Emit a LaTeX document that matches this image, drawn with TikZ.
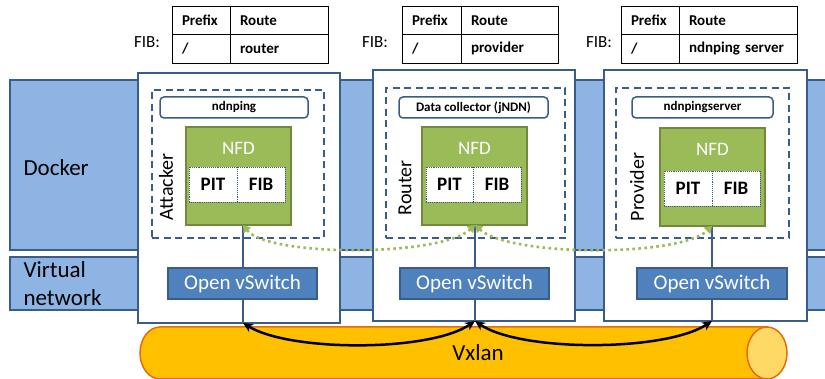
\documentclass[tikz,border=0pt]{standalone}
\usepackage{fontspec}
\setmainfont{Carlito}
\usetikzlibrary{arrows.meta}
\definecolor{bandfill}{RGB}{142,180,227}
\definecolor{dblue}{RGB}{56,93,138}
\definecolor{swfill}{RGB}{79,129,189}
\definecolor{nfdfill}{RGB}{155,187,89}
\definecolor{nfdline}{RGB}{113,137,63}
\definecolor{cylfill}{RGB}{255,192,0}
\definecolor{cylline}{RGB}{228,108,10}
\definecolor{capfill}{RGB}{255,217,102}
\newcommand{\fs}[1]{\fontsize{#1}{#1}\selectfont}
\begin{document}
\begin{tikzpicture}[x=1pt,y=-1pt,
  box/.style={inner sep=0pt, outer sep=0pt, anchor=north west},
  band/.style={box, draw=dblue, fill=bandfill, line width=1.2pt},
  cont/.style={box, draw=dblue, fill=white, line width=1.5pt},
  dbox/.style={box, draw=dblue, line width=1.5pt, dash pattern=on 7pt off 4.5pt},
  app/.style={box, draw=dblue, fill=white, line width=1.5pt, rounded corners=4pt, font=\bfseries\fs{13}},
  nfd/.style={box, draw=nfdline, fill=nfdfill, line width=1.5pt},
  nfdlbl/.style={text=white, font=\fs{19}},
  cell/.style={box, draw=dblue, fill=white, densely dotted, line width=0.9pt, minimum height=35pt, font=\bfseries\fs{19}},
  sw/.style={box, draw=dblue, fill=swfill, line width=1.5pt, text=white, font=\fs{21}},
  tcell/.style={box, draw=black, line width=0.8pt, minimum height=28.5pt, inner xsep=10pt, align=left, font=\bfseries\fs{15}},
  fiblbl/.style={font=\fs{17}},
  role/.style={rotate=90, font=\fs{20}},
  vline/.style={draw=dblue, line width=1.8pt},
  link/.style={draw=black, line width=2.5pt, {Stealth[length=10pt,width=9pt]}-{Stealth[length=10pt,width=9pt]}},
  glink/.style={draw=nfdfill, line width=2.6pt, dash pattern=on 2.6pt off 3.4pt, {Triangle[length=7pt,width=9pt]}-{Triangle[length=7pt,width=9pt]}}
]
\useasboundingbox (0,0) rectangle (825,379);
\clip (0,0) rectangle (825,379);

% bands
\node[band, minimum width=830pt, minimum height=170pt] (docker) at (10,80) {};
\node[band, minimum width=830pt, minimum height=53pt] (vnet) at (10,257) {};
\node[anchor=west, font=\fs{23}] (dockerlbl) at (20,168) {Docker};
\node[anchor=west, align=left, font=\fontsize{23}{28}\selectfont] (vnetlbl) at (20,284) {Virtual\\network};

% cylinder
\draw[cylline, fill=cylfill, line width=1.5pt] (767,327) -- (160,327)
  arc[start angle=90, end angle=270, x radius=20pt, y radius=26pt] -- (767,379) -- cycle;
\draw[cylline, fill=capfill, line width=1.5pt] (767,353) ellipse [x radius=20pt, y radius=26pt];
\node[font=\fs{23}] (vxlan) at (478,353) {Vxlan};

% containers
\node[cont, minimum width=202pt, minimum height=250pt] (c1) at (138,73) {};
\node[cont, minimum width=202pt, minimum height=251pt] (c2) at (373,70) {};
\node[cont, minimum width=203pt, minimum height=251pt] (c3) at (604,70) {};

% dashed boxes
\node[dbox, minimum width=172pt, minimum height=148pt] (d1) at (152,90) {};
\node[dbox, minimum width=179pt, minimum height=150pt] (d2) at (386,88) {};
\node[dbox, minimum width=173pt, minimum height=150pt] (d3) at (616,88) {};

% apps
\node[app, minimum width=148pt, minimum height=21pt] (a1) at (160,97) {ndnping};
\node[app, minimum width=149pt, minimum height=21pt] (a2) at (399,97) {Data collector (jNDN)};
\node[app, minimum width=141pt, minimum height=21pt] (a3) at (632,97) {ndnpingserver};

% role labels
\node[role] (r1) at (166,187) {Attacker};
\node[role] (r2) at (405,188) {Router};
\node[role] (r3) at (637,187) {Provider};

% coordinates for links
\coordinate (t1) at (243,225);
\coordinate (t2) at (475,225);
\coordinate (t3) at (712,226);
\coordinate (b1) at (243,323);
\coordinate (b2) at (475,321);
\coordinate (b3) at (712,321);

% vertical lines
\draw[vline] (t1) -- (b1);
\draw[vline] (t2) -- (b2);
\draw[vline] (t3) -- (b3);

% NFD
\node[nfd, minimum width=105pt, minimum height=98pt] (n1) at (186,127) {};
\node[nfd, minimum width=105pt, minimum height=98pt] (n2) at (422,127) {};
\node[nfd, minimum width=105pt, minimum height=98pt] (n3) at (660,128) {};
\node[nfdlbl] (nl1) at (238.5,148) {NFD};
\node[nfdlbl] (nl2) at (474.5,148) {NFD};
\node[nfdlbl] (nl3) at (712.5,149) {NFD};

\node[cell, minimum width=48pt] (p1) at (189,167) {PIT};
\node[cell, minimum width=48pt] (f1) at (237,167) {FIB};
\node[cell, minimum width=47pt] (p2) at (426,167) {PIT};
\node[cell, minimum width=48pt] (f2) at (473,167) {FIB};
\node[cell, minimum width=48pt] (p3) at (664,171) {PIT};
\node[cell, minimum width=48pt] (f3) at (712,171) {FIB};

% vSwitch
\node[sw, minimum width=149pt, minimum height=31pt] (s1) at (168,268) {Open vSwitch};
\node[sw, minimum width=149pt, minimum height=31pt] (s2) at (400,268) {Open vSwitch};
\node[sw, minimum width=150pt, minimum height=31pt] (s3) at (637,268) {Open vSwitch};

% FIB tables
\node[fiblbl] (fl1) at (147,42) {FIB:};
\node[tcell, text width=38pt] (h11) at (172,6) {Prefix};
\node[tcell, text width=78pt] (h12) at (230,6) {Route};
\node[tcell, text width=38pt] (v11) at (172,34.5) {/};
\node[tcell, text width=78pt] (v12) at (230,34.5) {router};

\node[fiblbl] (fl2) at (375,42) {FIB:};
\node[tcell, text width=39pt] (h21) at (402,6) {Prefix};
\node[tcell, text width=77pt] (h22) at (461,6) {Route};
\node[tcell, text width=39pt] (v21) at (402,34.5) {/};
\node[tcell, text width=77pt] (v22) at (461,34.5) {provider};

\node[fiblbl] (fl3) at (599,42) {FIB:};
\node[tcell, text width=38pt] (h31) at (621,6) {Prefix};
\node[tcell, text width=98pt] (h32) at (679,6) {Route};
\node[tcell, text width=38pt] (v31) at (621,34.5) {/};
\node[tcell, text width=98pt] (v32) at (679,34.5) {ndnping server};

% green dotted links
\draw[glink] (t1) .. controls (268,257) and (440,257) .. (t2);
\draw[glink] (t2) .. controls (510,257) and (680,257) .. (t3);

% black links
\draw[link] (b1) .. controls (290,352) and (430,352) .. (b2);
\draw[link] (b2) .. controls (520,352) and (665,352) .. (b3);
\end{tikzpicture}
\end{document}
